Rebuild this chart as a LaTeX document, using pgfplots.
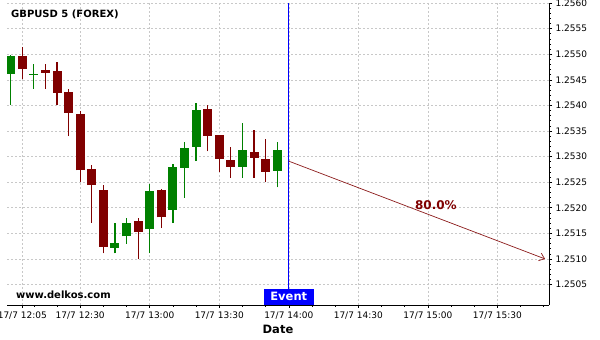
\documentclass[border=0pt]{standalone}
\usepackage{fontspec}
\setmainfont{DejaVu Sans}
\usepackage{pgfplots}
\pgfplotsset{compat=1.18}
\usepackage{pgfplotstable}
\usetikzlibrary{arrows.meta}
\definecolor{cgreen}{HTML}{008000}
\definecolor{cred}{HTML}{800000}
\definecolor{evblue}{HTML}{0000FF}
\definecolor{arrowred}{HTML}{8B1A1A}
\definecolor{gridgray}{HTML}{C8C8C8}

% t = minutes after 17/7 12:00
\pgfplotstableread{
t o h l c
0 1.25462 1.25498 1.25401 1.25497
10 1.25460 1.25481 1.25432 1.25462
45 1.25122 1.25170 1.25111 1.25131
50 1.25144 1.25180 1.25130 1.25170
60 1.25158 1.25246 1.25111 1.25233
70 1.25196 1.25285 1.25170 1.25280
75 1.25278 1.25328 1.25220 1.25317
80 1.25319 1.25404 1.25291 1.25391
100 1.25280 1.25365 1.25259 1.25313
115 1.25272 1.25328 1.25240 1.25313
}\greendata

\pgfplotstableread{
t o h l c
5 1.25497 1.25515 1.25451 1.25471
15 1.25469 1.25481 1.25432 1.25464
20 1.25468 1.25484 1.25401 1.25425
25 1.25427 1.25432 1.25340 1.25386
30 1.25384 1.25390 1.25251 1.25273
35 1.25275 1.25284 1.25171 1.25244
40 1.25235 1.25244 1.25111 1.25124
55 1.25174 1.25179 1.25099 1.25153
65 1.25235 1.25237 1.25160 1.25181
85 1.25393 1.25400 1.25310 1.25341
90 1.25342 1.25343 1.25270 1.25296
95 1.25293 1.25319 1.25259 1.25280
105 1.25309 1.25352 1.25259 1.25298
110 1.25295 1.25334 1.25250 1.25270
}\reddata

\pgfplotsset{candle/.style={only marks, mark=*, mark size=0pt,
  mark options={draw opacity=0, fill opacity=0}, forget plot}}

\begin{document}
\begin{tikzpicture}
\begin{axis}[
  at={(0,0)}, anchor=south west,
  scale only axis, width=542pt, height=302pt,
  xmin=-1.6, xmax=232.3, ymin=1.2501, ymax=1.2560,
  axis x line*=bottom, axis y line*=right,
  axis line style={black, line width=0.8pt},
  tick align=outside,
  major tick length=3pt, minor tick length=2pt,
  tick style={black, line width=0.5pt},
  xtick={5,30,60,90,120,150,180,210},
  xticklabels={17/7 12:05,17/7 12:30,17/7 13:00,17/7 13:30,17/7 14:00,17/7 14:30,17/7 15:00,17/7 15:30},
  minor xtick={10,20,40,50,70,80,100,110,130,140,160,170,190,200,220,230},
  ytick={1.2505,1.2510,1.2515,1.2520,1.2525,1.2530,1.2535,1.2540,1.2545,1.2550,1.2555,1.2560},
  yticklabels={1.2505,1.2510,1.2515,1.2520,1.2525,1.2530,1.2535,1.2540,1.2545,1.2550,1.2555,1.2560},
  minor y tick num=4,
  /pgf/number format/assume math mode=true,
  tick label style={font=\fontsize{9}{10}\selectfont, black},
  grid=major,
  major grid style={gridgray, line width=0.5pt, dash pattern=on 2pt off 2pt},
  xlabel={Date},
  xlabel style={font=\bfseries\fontsize{11.5}{13}\selectfont, at={(rel axis cs:0.5,0)}, anchor=north, yshift=-20pt, inner sep=0pt},
  clip=true,
]
% wicks
\addplot[cgreen, candle,
  error bars/.cd, y dir=plus, y explicit, error mark=none,
  error bar style={line width=1.2pt, cgreen, draw opacity=1}]
  table[x=t, y=l, y error expr=\thisrow{h}-\thisrow{l}]{\greendata};
\addplot[cred, candle,
  error bars/.cd, y dir=plus, y explicit, error mark=none,
  error bar style={line width=1.2pt, cred, draw opacity=1}]
  table[x=t, y=l, y error expr=\thisrow{h}-\thisrow{l}]{\reddata};
% bodies
\addplot[cgreen, candle,
  error bars/.cd, y dir=plus, y explicit, error mark=none,
  error bar style={line width=9pt, cgreen, draw opacity=1}]
  table[x=t, y=o, y error expr=\thisrow{c}-\thisrow{o}]{\greendata};
\addplot[cred, candle,
  error bars/.cd, y dir=plus, y explicit, error mark=none,
  error bar style={line width=9pt, cred, draw opacity=1}]
  table[x=t, y=c, y error expr=\thisrow{o}-\thisrow{c}]{\reddata};
% event line
\addplot[evblue, line width=0.8pt, forget plot] coordinates {(120,1.2501) (120,1.2560)};
% forecast arrow
\addplot[arrowred, line width=0.7pt, -{Straight Barb[length=5pt,width=8pt]}, forget plot]
  coordinates {(120,1.25291) (230.6,1.25100)};
\node[cred, font=\bfseries\fontsize{12}{13}\selectfont] at (axis cs:183.5,1.25206) {80.0\%};
\node[evblue, fill=evblue, text=white, font=\bfseries\fontsize{11.5}{12}\selectfont, anchor=south, minimum width=50pt, minimum height=16pt, inner sep=0pt] at (axis cs:120,1.2501) {Event};
\node[anchor=west, font=\bfseries\fontsize{10}{11}\selectfont, inner sep=0pt] at (rel axis cs:0.0074,0.9636) {GBPUSD 5 (FOREX)};
\node[anchor=west, font=\bfseries\fontsize{10}{11}\selectfont, inner sep=0pt] at (rel axis cs:0.0166,0.033) {www.delkos.com};
\end{axis}
\pgfresetboundingbox
\useasboundingbox (-7pt,-35pt) rectangle (593pt,305pt);
\end{tikzpicture}
\end{document}
